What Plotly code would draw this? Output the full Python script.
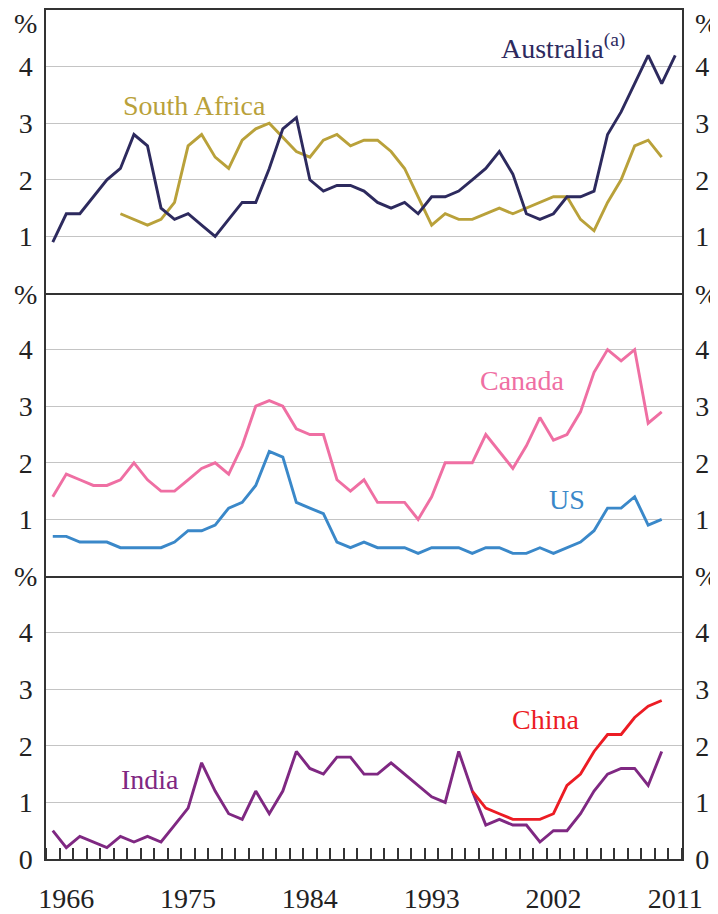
import plotly.graph_objects as go
from plotly.subplots import make_subplots

years_full = list(range(1965, 2012))   # 1965-2011
years = list(range(1965, 2011))        # 1965-2010
years_sa = list(range(1970, 2011))
years_cn = list(range(1996, 2011))

australia = [0.9, 1.4, 1.4, 1.7, 2.0, 2.2, 2.8, 2.6, 1.5, 1.3, 1.4, 1.2, 1.0, 1.3, 1.6, 1.6,
             2.2, 2.9, 3.1, 2.0, 1.8, 1.9, 1.9, 1.8, 1.6, 1.5, 1.6, 1.4, 1.7, 1.7, 1.8, 2.0,
             2.2, 2.5, 2.1, 1.4, 1.3, 1.4, 1.7, 1.7, 1.8, 2.8, 3.2, 3.7, 4.2, 3.7, 4.2]
south_africa = [1.4, 1.3, 1.2, 1.3, 1.6, 2.6, 2.8, 2.4, 2.2, 2.7, 2.9, 3.0, 2.75, 2.5, 2.4,
                2.7, 2.8, 2.6, 2.7, 2.7, 2.5, 2.2, 1.7, 1.2, 1.4, 1.3, 1.3, 1.4, 1.5, 1.4,
                1.5, 1.6, 1.7, 1.7, 1.3, 1.1, 1.6, 2.0, 2.6, 2.7, 2.4]
canada = [1.4, 1.8, 1.7, 1.6, 1.6, 1.7, 2.0, 1.7, 1.5, 1.5, 1.7, 1.9, 2.0, 1.8, 2.3, 3.0,
          3.1, 3.0, 2.6, 2.5, 2.5, 1.7, 1.5, 1.7, 1.3, 1.3, 1.3, 1.0, 1.4, 2.0, 2.0, 2.0,
          2.5, 2.2, 1.9, 2.3, 2.8, 2.4, 2.5, 2.9, 3.6, 4.0, 3.8, 4.0, 2.7, 2.9]
us = [0.7, 0.7, 0.6, 0.6, 0.6, 0.5, 0.5, 0.5, 0.5, 0.6, 0.8, 0.8, 0.9, 1.2, 1.3, 1.6,
      2.2, 2.1, 1.3, 1.2, 1.1, 0.6, 0.5, 0.6, 0.5, 0.5, 0.5, 0.4, 0.5, 0.5, 0.5, 0.4,
      0.5, 0.5, 0.4, 0.4, 0.5, 0.4, 0.5, 0.6, 0.8, 1.2, 1.2, 1.4, 0.9, 1.0]
india = [0.5, 0.2, 0.4, 0.3, 0.2, 0.4, 0.3, 0.4, 0.3, 0.6, 0.9, 1.7, 1.2, 0.8, 0.7, 1.2,
         0.8, 1.2, 1.9, 1.6, 1.5, 1.8, 1.8, 1.5, 1.5, 1.7, 1.5, 1.3, 1.1, 1.0, 1.9, 1.2,
         0.6, 0.7, 0.6, 0.6, 0.3, 0.5, 0.5, 0.8, 1.2, 1.5, 1.6, 1.6, 1.3, 1.9]
china = [1.2, 0.9, 0.8, 0.7, 0.7, 0.7, 0.8, 1.3, 1.5, 1.9, 2.2, 2.2, 2.5, 2.7, 2.8]

x_tickvals = [1966, 1975, 1984, 1993, 2002, 2011]
y_ticks_upper = [1, 2, 3, 4]
y_ticks_lower = [0, 1, 2, 3, 4]

C_AUS = "#2d2a5e"
C_SA = "#b9a13a"
C_CAN = "#ef6fa3"
C_US = "#3a88c9"
C_IND = "#7f2882"
C_CHN = "#ec1c24"

FONT = "Liberation Serif, Times New Roman, serif"
FS = 28

fig = make_subplots(rows=3, cols=1, shared_xaxes=True, vertical_spacing=0,
                    specs=[[{"secondary_y": True}]] * 3)

LW = 2.9
fig.add_trace(go.Scatter(x=years_sa, y=south_africa, mode="lines",
                         line=dict(color=C_SA, width=LW)), row=1, col=1, secondary_y=False)
fig.add_trace(go.Scatter(x=years_full, y=australia, mode="lines",
                         line=dict(color=C_AUS, width=LW)), row=1, col=1, secondary_y=True)
fig.add_trace(go.Scatter(x=years, y=canada, mode="lines",
                         line=dict(color=C_CAN, width=LW)), row=2, col=1, secondary_y=False)
fig.add_trace(go.Scatter(x=years, y=us, mode="lines",
                         line=dict(color=C_US, width=LW)), row=2, col=1, secondary_y=True)
fig.add_trace(go.Scatter(x=years, y=india, mode="lines",
                         line=dict(color=C_IND, width=LW)), row=3, col=1, secondary_y=False)
fig.add_trace(go.Scatter(x=years_cn, y=china, mode="lines",
                         line=dict(color=C_CHN, width=LW)), row=3, col=1, secondary_y=True)

LINEC = "#333333"
GRIDC = "#c4c4c4"
tickfont = dict(family=FONT, size=FS, color="#222222")

for r in (1, 2, 3):
    fig.update_xaxes(domain=[0, 1], range=[1964.5, 2011.5], showgrid=False, showline=True,
                     mirror=(r == 1), linecolor=LINEC, linewidth=1.5, zeroline=False,
                     tickvals=x_tickvals, ticks="", showticklabels=(r == 3),
                     tickfont=tickfont, row=r, col=1)
    tv = y_ticks_lower if r == 3 else y_ticks_upper
    fig.update_yaxes(range=[0, 5], tickvals=tv, ticks="", showgrid=True, gridcolor=GRIDC,
                     gridwidth=1.2, zeroline=False, showline=True, linecolor=LINEC,
                     linewidth=1.5, tickfont=tickfont, ticklabelstandoff=6,
                     row=r, col=1, secondary_y=False)
    fig.update_yaxes(range=[0, 5], tickvals=tv, ticks="", showgrid=False, zeroline=False,
                     showline=True, linecolor=LINEC, linewidth=1.5, side="right",
                     tickfont=tickfont, ticklabelstandoff=6,
                     row=r, col=1, secondary_y=True)

fig.update_xaxes(minor=dict(tick0=1964.5, dtick=1, ticks="inside", ticklen=11,
                            tickcolor=LINEC, tickwidth=1.5),
                 ticklabelstandoff=14, row=3, col=1)

# The page body adds an 8px offset; size the figure so the plot area lands
# at page x 46..682 and y 8..869.
OFF = 8
W, H = 718 - OFF, 914 - OFF
ML, MR, MT, MB = 46 - OFF, 36, 0, 45
PW = W - ML - MR
PH = H - MT - MB

def px2paper(px, py):
    fx, fy = px - OFF, py - OFF
    return (fx - ML) / PW, (H - MB - fy) / PH

annotations = []
for py in (22, 297, 583):
    for px in (25, 706):
        x, y = px2paper(px, py)
        annotations.append(dict(x=x, y=y, xref="paper", yref="paper", text="%",
                                showarrow=False, font=dict(family=FONT, size=FS, color="#222222"),
                                xanchor="center", yanchor="middle"))

labels = [
    ("South Africa", 1975.5, 3.31, C_SA, "y", "center"),
    ("Australia<sup>(a)</sup>", 2007.4, 4.36, C_AUS, "y", "right"),
    ("Canada", 1999.7, 3.46, C_CAN, "y3", "center"),
    ("US", 2003.0, 1.36, C_US, "y3", "center"),
    ("India", 1972.2, 1.40, C_IND, "y5", "center"),
    ("China", 2001.4, 2.47, C_CHN, "y5", "center"),
]
for text, x, y, col, yref, xa in labels:
    annotations.append(dict(x=x, y=y, xref="x", yref=yref, text=text, showarrow=False,
                            font=dict(family=FONT, size=FS, color=col),
                            xanchor=xa, yanchor="middle"))

fig.update_layout(width=W, height=H, margin=dict(l=ML, r=MR, t=MT, b=MB),
                  paper_bgcolor="white", plot_bgcolor="white", showlegend=False,
                  annotations=annotations)

fig.write_html("out.html")
